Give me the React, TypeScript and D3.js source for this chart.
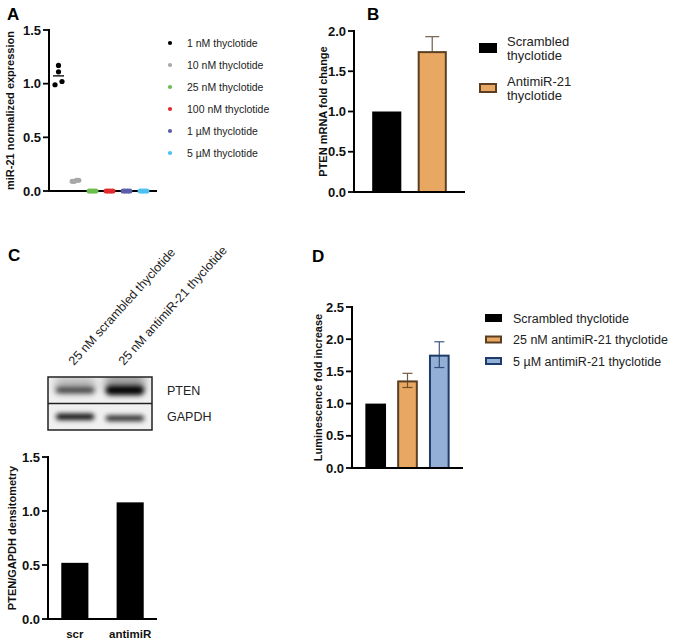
import React from 'react';
import * as d3 from 'd3';

// ---------- Panel A data ----------
const groupsA = ['1 nM thyclotide', '10 nM thyclotide', '25 nM thyclotide', '100 nM thyclotide', '1 µM thyclotide', '5 µM thyclotide'];
const colorsA = ['#000000', '#a8a8a8', '#6cbd4e', '#e32b2e', '#5a5ea8', '#4dc1ef'];
const valuesA = [
  [0.99, 1.17, 1.11, 1.02],
  [0.09, 0.09, 0.1, 0.1],
  [0, 0, 0, 0],
  [0, 0, 0, 0],
  [0, 0, 0, 0],
  [0, 0, 0, 0],
];
const ticksA = [0, 0.5, 1.0, 1.5];

// ---------- Panel B data ----------
const categoriesB = ['Scrambled thyclotide', 'AntimiR-21 thyclotide'];
const legendLinesB = [['Scrambled', 'thyclotide'], ['AntimiR-21', 'thyclotide']];
const meansB = [1.0, 1.75];
const errB = [0, 0.18];
const ticksB = [0, 0.5, 1.0, 1.5, 2.0];

// ---------- Panel C data ----------
const lanesC = ['25 nM scrambled thyclotide', '25 nM antimiR-21 thyclotide'];
const blotRows = ['PTEN', 'GAPDH'];
const bandIntensity = [[0.75, 1.0], [1.0, 0.95]];
const bandThickness = [[5, 9], [6, 5]];
const categoriesC = ['scr', 'antimiR'];
const valuesC = [0.52, 1.08];
const ticksC = [0, 0.5, 1.0, 1.5];

// ---------- Panel D data ----------
const categoriesD = ['Scrambled thyclotide', '25 nM antimiR-21 thyclotide', '5 µM antimiR-21 thyclotide'];
const meansD = [1.0, 1.36, 1.76];
const errD = [0, 0.11, 0.2];
const ticksD = [0, 0.5, 1.0, 1.5, 2.0, 2.5];

const fillB = ['#000000', '#e9a862'];
const strokeB = ['#000000', '#5a3f22'];
const fillD = ['#000000', '#e9a862', '#94afd6'];
const strokeD = ['#000000', '#5a3f22', '#1d3c6a'];

const FONT = '"Liberation Sans", Arial, Helvetica, sans-serif';

function swarmOffsets(vals: number[], y: (v: number) => number, minDist: number) {
  const idx = vals.map((_, i) => i).sort((a, b) => vals[a] - vals[b]);
  const clusters: number[][] = [];
  idx.forEach((i) => {
    const last = clusters[clusters.length - 1];
    if (last && Math.abs(y(vals[i]) - y(vals[last[last.length - 1]])) < minDist) last.push(i);
    else clusters.push([i]);
  });
  const off = new Array(vals.length).fill(0);
  clusters.forEach((c) => {
    const sp = c.length > 2 ? 2.2 : 7;
    c.forEach((i, k) => (off[i] = (k - (c.length - 1) / 2) * sp));
  });
  return off;
}

function YAxis({ x, scale, ticks, label, labelX }: { x: number; scale: d3.ScaleLinear<number, number>; ticks: number[]; label: string; labelX: number }) {
  const [r0, r1] = scale.range();
  const mid = (r0 + r1) / 2;
  return (
    <g>
      <line x1={x} x2={x} y1={scale(ticks[ticks.length - 1]) - 1} y2={scale(0) + 1} stroke="#000" strokeWidth={2} />
      {ticks.map((t) => (
        <g key={t}>
          <line x1={x - 6} x2={x} y1={scale(t)} y2={scale(t)} stroke="#000" strokeWidth={1.8} />
          <text x={x - 8} y={scale(t) + 4.6} textAnchor="end" fontSize={13} fontWeight="bold" fill="#111">
            {d3.format('.1f')(t)}
          </text>
        </g>
      ))}
      <text transform={`translate(${labelX},${mid}) rotate(-90)`} textAnchor="middle" fontSize={11} fontWeight="bold" fill="#111">
        {label}
      </text>
    </g>
  );
}

export default function App() {
  // ---------- Panel A ----------
  const yA = d3.scaleLinear().domain([0, 1.5]).range([191, 30]);
  const xA = d3.scalePoint<string>().domain(groupsA).range([58.5, 143.5]);

  // ---------- Panel B ----------
  const yB = d3.scaleLinear().domain([0, 2]).range([192, 31]);
  const xB = d3.scaleBand<string>().domain(categoriesB).range([354, 465]).paddingInner(0.36).paddingOuter(0.4);

  // ---------- Panel C ----------
  const yC = d3.scaleLinear().domain([0, 1.5]).range([619, 457]);
  const xC = d3.scaleBand<string>().domain(categoriesC).range([48, 157]).paddingInner(0.51).paddingOuter(0.24);
  const laneX = d3.scaleBand<string>().domain(lanesC).range([48, 152]).paddingInner(0.15).paddingOuter(0.12);
  const rowY = d3.scaleBand<string>().domain(blotRows).range([377, 430]);

  // ---------- Panel D ----------
  const yD = d3.scaleLinear().domain([0, 2.5]).range([468, 307]);
  const xD = d3.scaleBand<string>().domain(categoriesD).range([352, 463]).paddingInner(0.35).paddingOuter(0.42);

  return (
    <div style={{ position: 'absolute', left: 0, top: 0 }}>
      <svg width={685} height={643} style={{ display: 'block', fontFamily: FONT, background: '#fff' }}>
        <defs>
          <filter id="blur" x="-50%" y="-100%" width="200%" height="300%">
            <feGaussianBlur stdDeviation="2.6" />
          </filter>
          <filter id="blur2" x="-50%" y="-100%" width="200%" height="300%">
            <feGaussianBlur stdDeviation="4" />
          </filter>
          <clipPath id="blotClip">
            <rect x={48} y={377} width={104} height={53} />
          </clipPath>
        </defs>

        {/* Panel letters */}
        <text x={7} y={20} fontSize={17} fontWeight="bold">A</text>
        <text x={367} y={20} fontSize={17} fontWeight="bold">B</text>
        <text x={8} y={261} fontSize={17} fontWeight="bold">C</text>
        <text x={312} y={262} fontSize={17} fontWeight="bold">D</text>

        {/* ================= Panel A ================= */}
        <g>
          <line x1={48} x2={157} y1={yA(0)} y2={yA(0)} stroke="#000" strokeWidth={2} />
          <YAxis x={49} scale={yA} ticks={ticksA} label="miR-21 normalized expression" labelX={14} />
          {groupsA.map((g, gi) => {
            const vals = valuesA[gi];
            const off = swarmOffsets(vals, yA, 5);
            const cx = xA(g) as number;
            const m = d3.mean(vals) as number;
            return (
              <g key={g}>
                {gi === 0 && (
                  <line x1={cx - 5.5} x2={cx + 5.5} y1={yA(m)} y2={yA(m)} stroke={colorsA[gi]} strokeWidth={1.3} />
                )}
                {vals.map((v, i) => (
                  <circle key={i} cx={cx + off[i]} cy={yA(v)} r={2.6} fill={colorsA[gi]} />
                ))}
              </g>
            );
          })}
          {groupsA.map((g, gi) => (
            <g key={g} transform={`translate(170,${43 + gi * 22})`}>
              <circle cx={0} cy={0} r={2.1} fill={colorsA[gi]} />
              <text x={17} y={3.7} fontSize={10.5} fill="#222">{g}</text>
            </g>
          ))}
        </g>

        {/* ================= Panel B ================= */}
        <g>
          {categoriesB.map((c, i) => {
            const x0 = xB(c) as number;
            const bw = xB.bandwidth();
            const sw = i === 0 ? 0 : 2;
            return (
              <g key={c}>
                {errB[i] > 0 && (
                  <g stroke="#7a6a5a" strokeWidth={1.3}>
                    <line x1={x0 + bw / 2} x2={x0 + bw / 2} y1={yB(meansB[i])} y2={yB(meansB[i] + errB[i])} />
                    <line x1={x0 + bw / 2 - 7} x2={x0 + bw / 2 + 7} y1={yB(meansB[i] + errB[i])} y2={yB(meansB[i] + errB[i])} />
                  </g>
                )}
                <rect x={x0 + sw / 2} y={yB(meansB[i]) + sw / 2} width={bw - sw} height={yB(0) - yB(meansB[i]) - sw / 2}
                  fill={fillB[i]} stroke={strokeB[i]} strokeWidth={sw} />
              </g>
            );
          })}
          <line x1={353} x2={465} y1={yB(0)} y2={yB(0)} stroke="#000" strokeWidth={2} />
          <YAxis x={354} scale={yB} ticks={ticksB} label="PTEN mRNA fold change" labelX={327} />
          {categoriesB.map((c, i) => (
            <g key={c} transform={`translate(479,${48 + i * 40})`}>
              <rect x={i === 0 ? 0 : 1} y={i === 0 ? -5 : -4} width={i === 0 ? 18 : 16} height={i === 0 ? 10 : 8}
                fill={fillB[i]} stroke={strokeB[i]} strokeWidth={i === 0 ? 0 : 2} />
              {legendLinesB[i].map((ln, k) => (
                <text key={k} x={28} y={-2 + k * 14} fontSize={13} fill="#222">{ln}</text>
              ))}
            </g>
          ))}
        </g>

        {/* ================= Panel C ================= */}
        <g>
          {lanesC.map((l) => {
            const lx = (laneX(l) as number) + laneX.bandwidth() / 2;
            return (
              <text key={l} transform={`translate(${lx - 1},366) rotate(-48)`} fontSize={12.5} fill="#222">{l}</text>
            );
          })}
          <rect x={48} y={377} width={104} height={53} fill="#f0f0f0" />
          <g clipPath="url(#blotClip)">
            {blotRows.map((r, ri) => (
              <g key={r}>
                {lanesC.map((l, li) => {
                  const x0 = laneX(l) as number;
                  const bw = laneX.bandwidth();
                  const cy = (rowY(r) as number) + rowY.bandwidth() / 2 + (ri === 1 && li === 1 ? 1.5 : 0);
                  const th = bandThickness[ri][li];
                  const inten = bandIntensity[ri][li];
                  return (
                    <g key={l}>
                      {ri === 0 && (
                        <rect x={x0 + 1} y={cy - th - 7} width={bw - 2} height={th + 10} rx={5}
                          fill="#000" opacity={inten * 0.35} filter="url(#blur2)" />
                      )}
                      <rect x={x0 + 2} y={cy - th / 2} width={bw - 4} height={th} rx={th / 2}
                        fill="#000" opacity={inten} filter="url(#blur)" />
                    </g>
                  );
                })}
              </g>
            ))}
          </g>
          {blotRows.map((r) => (
            <text key={r} x={167} y={(rowY(r) as number) + rowY.bandwidth() / 2 + 4.5} fontSize={12.5} fill="#222">{r}</text>
          ))}
          <rect x={48} y={377} width={104} height={53} fill="none" stroke="#222" strokeWidth={1.5} />
          <line x1={48} x2={152} y1={(rowY('GAPDH') as number)} y2={(rowY('GAPDH') as number)} stroke="#222" strokeWidth={1.5} />

          {categoriesC.map((c, i) => {
            const x0 = xC(c) as number;
            return (
              <g key={c}>
                <rect x={x0} y={yC(valuesC[i])} width={xC.bandwidth()} height={yC(0) - yC(valuesC[i])} fill="#000" />
                <text x={x0 + xC.bandwidth() / 2} y={638} textAnchor="middle" fontSize={11.5} fontWeight="bold" fill="#111">{c}</text>
              </g>
            );
          })}
          <line x1={47} x2={157} y1={yC(0)} y2={yC(0)} stroke="#000" strokeWidth={2} />
          <YAxis x={48} scale={yC} ticks={ticksC} label="PTEN/GAPDH densitometry" labelX={16} />
        </g>

        {/* ================= Panel D ================= */}
        <g>
          {categoriesD.map((c, i) => {
            const x0 = xD(c) as number;
            const bw = xD.bandwidth();
            const sw = i === 0 ? 0 : 2;
            const cx = x0 + bw / 2;
            return (
              <g key={c}>
                <rect x={x0 + sw / 2} y={yD(meansD[i]) + sw / 2} width={bw - sw} height={yD(0) - yD(meansD[i]) - sw / 2}
                  fill={fillD[i]} stroke={strokeD[i]} strokeWidth={sw} />
                {errD[i] > 0 && (
                  <g stroke={strokeD[i]} strokeWidth={1.2} opacity={0.85}>
                    <line x1={cx} x2={cx} y1={yD(meansD[i] - errD[i])} y2={yD(meansD[i] + errD[i])} />
                    <line x1={cx - 5} x2={cx + 5} y1={yD(meansD[i] + errD[i])} y2={yD(meansD[i] + errD[i])} />
                    <line x1={cx - 5} x2={cx + 5} y1={yD(meansD[i] - errD[i])} y2={yD(meansD[i] - errD[i])} />
                  </g>
                )}
              </g>
            );
          })}
          <line x1={351} x2={463} y1={yD(0)} y2={yD(0)} stroke="#000" strokeWidth={2} />
          <YAxis x={352} scale={yD} ticks={ticksD} label="Luminescence fold increase" labelX={322} />
          {categoriesD.map((c, i) => (
            <g key={c} transform={`translate(485,${318 + i * 21.5})`}>
              <rect x={i === 0 ? 0 : 1} y={i === 0 ? -4 : -3} width={i === 0 ? 17 : 15} height={i === 0 ? 8 : 6}
                fill={fillD[i]} stroke={strokeD[i]} strokeWidth={i === 0 ? 0 : 2} />
              <text x={28} y={4.5} fontSize={12.5} fill="#222">{c}</text>
            </g>
          ))}
        </g>
      </svg>
    </div>
  );
}
